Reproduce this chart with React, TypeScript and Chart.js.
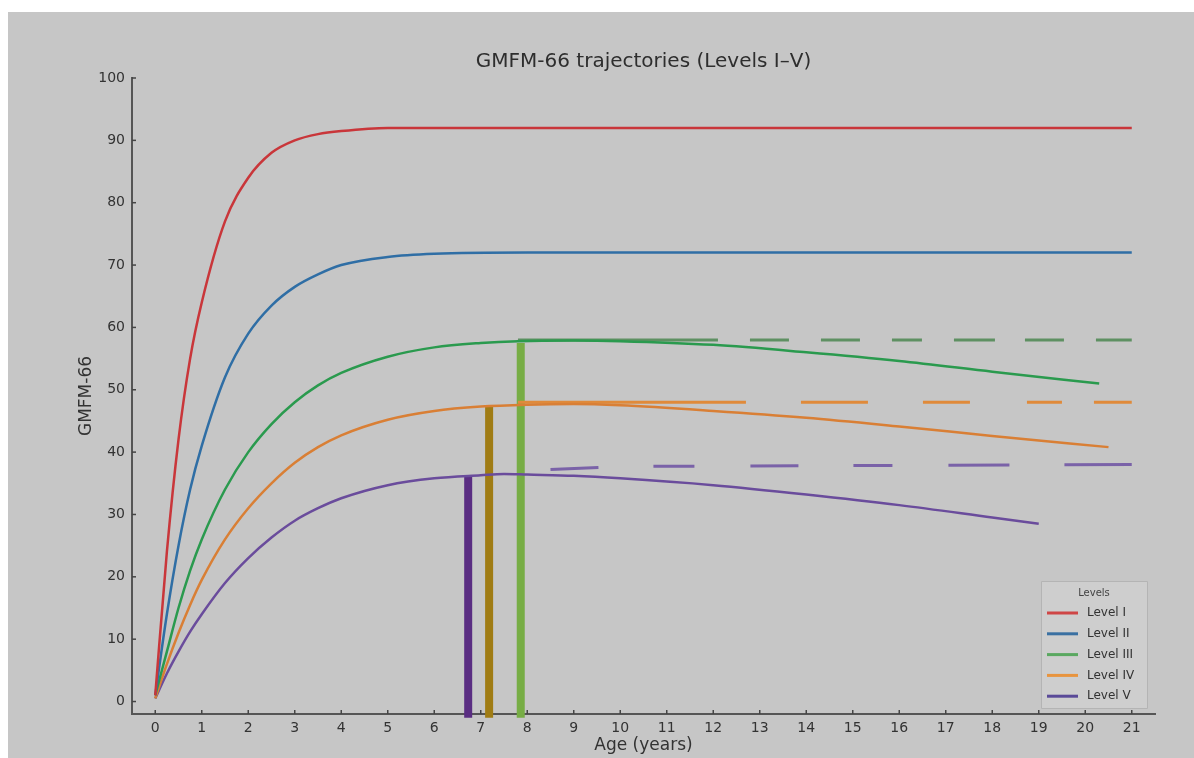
import React, { useEffect, useRef } from "react";
import { Chart, registerables } from "chart.js";

Chart.register(...registerables);

// ---- data ----
const levelIAges = [0, 0.25, 0.5, 0.75, 1, 1.5, 2, 2.5, 3, 3.5, 4, 5, 6, 8, 12, 16, 21];
const levelIValues = [1, 24, 42, 55, 64, 77, 84, 88, 90, 91, 91.5, 92, 92, 92, 92, 92, 92];

const levelIIAges = [0, 0.25, 0.5, 0.75, 1, 1.5, 2, 2.5, 3, 3.5, 4, 5, 6, 8, 12, 16, 21];
const levelIIValues = [1, 14, 25, 34, 41, 52, 59, 63.5, 66.5, 68.5, 70, 71.3, 71.8, 72, 72, 72, 72];

const levelIIIAges = [0, 0.25, 0.5, 0.75, 1, 1.5, 2, 2.5, 3, 3.5, 4, 5, 6, 7, 7.8, 9, 10, 12, 14, 16, 18, 20.3];
const levelIIIValues = [1, 8, 15, 21, 26, 34, 40, 44.5, 48, 50.7, 52.7, 55.3, 56.8, 57.5, 57.8, 57.9, 57.8, 57.2, 56, 54.6, 52.9, 51];

const levelIVAges = [0, 0.25, 0.5, 0.75, 1, 1.5, 2, 2.5, 3, 3.5, 4, 5, 6, 7, 8, 9, 10, 12, 14, 16, 18, 20.5];
const levelIVValues = [0.5, 6, 11, 15.5, 19.5, 26, 31, 35, 38.3, 40.8, 42.7, 45.2, 46.6, 47.3, 47.6, 47.7, 47.5, 46.6, 45.5, 44.1, 42.6, 40.8];

const levelVAges = [0, 0.25, 0.5, 0.75, 1, 1.5, 2, 2.5, 3, 3.5, 4, 5, 6, 7, 7.5, 8, 9, 10, 12, 14, 16, 18, 19];
const levelVValues = [0.5, 4.5, 8, 11.2, 14, 19, 23, 26.3, 29, 31, 32.6, 34.7, 35.8, 36.3, 36.5, 36.4, 36.2, 35.8, 34.7, 33.2, 31.5, 29.5, 28.5];

const plateauIIIAges = [7.8, 21];
const plateauIIIValues = [58, 58];
const plateauIVAges = [7.8, 21];
const plateauIVValues = [48, 48];
const plateauVAges = [8.5, 10, 21];
const plateauVValues = [37.2, 37.7, 38];

const peakLabels = ["Level V", "Level IV", "Level III"];
const peakAges = [6.73, 7.18, 7.86];
const peakValues = [36.1, 47.4, 57.5];
const peakBase = -2.6;

const xTickValues = Array.from({ length: 22 }, (_, i) => i);
const yTickValues = [0, 10, 20, 30, 40, 50, 60, 70, 80, 90, 100];

const legendLabels = ["Level I", "Level II", "Level III", "Level IV", "Level V"];
const legendColors = ["#cf4646", "#3a70a2", "#5aa860", "#e8943e", "#5a4a98"];

const FONT = "'DejaVu Sans', sans-serif";

const pts = (xs: number[], ys: number[]) => xs.map((x, i) => ({ x, y: ys[i] }));

const curve = (label: string, xs: number[], ys: number[], color: string) => ({
  label,
  data: pts(xs, ys),
  borderColor: color,
  backgroundColor: color,
  borderWidth: 2.5,
  pointRadius: 0,
  cubicInterpolationMode: "monotone" as const,
  fill: false,
});

const dashed = (label: string, xs: number[], ys: number[], color: string, dash: number[]) => ({
  label,
  data: pts(xs, ys),
  borderColor: color,
  backgroundColor: color,
  borderWidth: 3,
  borderDash: dash,
  pointRadius: 0,
  tension: 0,
  fill: false,
});

const peakColors = ["#5a2d82", "#a07c14", "#77ad45"];

const tickPlugin = {
  id: "inwardTicks",
  afterDraw(chart: any) {
    const { ctx, chartArea, scales } = chart;
    const xs = scales.x;
    const ys = scales.y;
    ctx.save();
    ctx.strokeStyle = "#444";
    ctx.lineWidth = 1.5;
    xTickValues.forEach((v) => {
      const px = xs.getPixelForValue(v);
      ctx.beginPath();
      ctx.moveTo(px, chartArea.bottom);
      ctx.lineTo(px, chartArea.bottom - 4);
      ctx.stroke();
    });
    yTickValues.forEach((v) => {
      const py = ys.getPixelForValue(v);
      ctx.beginPath();
      ctx.moveTo(chartArea.left, py);
      ctx.lineTo(chartArea.left + 4, py);
      ctx.stroke();
    });
    ctx.restore();
  },
};

const legendPlugin = {
  id: "boxLegend",
  afterDraw(chart: any) {
    const { ctx, chartArea } = chart;
    const w = 106;
    const h = 127;
    const right = chartArea.right - 8;
    const bottom = chartArea.bottom - 6;
    const left = right - w;
    const top = bottom - h;
    ctx.save();
    ctx.fillStyle = "rgba(206,206,206,0.9)";
    ctx.strokeStyle = "#b4b4b4";
    ctx.lineWidth = 1;
    ctx.beginPath();
    ctx.rect(left + 0.5, top + 0.5, w, h);
    ctx.fill();
    ctx.stroke();
    ctx.fillStyle = "#444";
    ctx.font = `10px ${FONT}`;
    ctx.textAlign = "center";
    ctx.textBaseline = "middle";
    ctx.fillText("Levels", left + w / 2, top + 12);
    ctx.font = `12px ${FONT}`;
    ctx.textAlign = "left";
    legendLabels.forEach((lab, i) => {
      const y = top + 32 + i * 20.8;
      ctx.strokeStyle = legendColors[i];
      ctx.lineWidth = 3;
      ctx.beginPath();
      ctx.moveTo(left + 6, y);
      ctx.lineTo(left + 37, y);
      ctx.stroke();
      ctx.fillStyle = "#333";
      ctx.fillText(lab, left + 46, y);
    });
    ctx.restore();
  },
};

export default function App() {
  const ref = useRef<HTMLCanvasElement | null>(null);

  useEffect(() => {
    if (!ref.current) return;
    const datasets: any[] = [
      curve("Level I", levelIAges, levelIValues, "#c9363a"),
      curve("Level II", levelIIAges, levelIIValues, "#2f6ea5"),
      curve("Level III", levelIIIAges, levelIIIValues, "#2a9a4e"),
      curve("Level IV", levelIVAges, levelIVValues, "#d97f35"),
      curve("Level V", levelVAges, levelVValues, "#6a4c9c"),
      dashed("Level III plateau", plateauIIIAges, plateauIIIValues, "#5e9062",
        [200, 32, 39, 32, 39, 32, 30, 32, 41, 30, 39, 32, 40]),
      dashed("Level IV plateau", plateauIVAges, plateauIVValues, "#e08a3a",
        [228, 55, 67, 55, 47, 57, 35, 32, 45]),
      dashed("Level V plateau", plateauVAges, plateauVValues, "#7a62a8",
        [48, 55, 41, 56, 48, 55, 39, 56, 61, 55, 75]),
    ];
    peakAges.forEach((a, i) => {
      datasets.push({
        label: peakLabels[i] + " peak",
        data: [
          { x: a, y: peakBase },
          { x: a, y: peakValues[i] },
        ],
        borderColor: peakColors[i],
        backgroundColor: peakColors[i],
        borderWidth: 8,
        borderCapStyle: "butt",
        pointRadius: 0,
        clip: false,
        fill: false,
      });
    });

    const chart = new Chart(ref.current, {
      type: "line",
      data: { datasets },
      plugins: [tickPlugin, legendPlugin],
      options: {
        responsive: false,
        animation: false,
        layout: { padding: { left: 60, right: 39, top: 0, bottom: 0 } },
        plugins: {
          legend: { display: false },
          tooltip: { enabled: false },
          title: {
            display: true,
            text: "GMFM-66 trajectories (Levels I–V)",
            color: "#2e2e2e",
            fullSize: false,
            font: { family: FONT, size: 20, weight: "normal" },
            padding: { top: 38, bottom: 4 },
          },
        },
        scales: {
          x: {
            type: "linear",
            min: -0.5,
            max: 21.5,
            afterBuildTicks: (s: any) => {
              s.ticks = xTickValues.map((v) => ({ value: v }));
            },
            afterFit: (s: any) => {
              s.height = 44;
            },
            grid: { display: false, drawTicks: false },
            border: { display: true, color: "#555", width: 2 },
            ticks: {
              color: "#333",
              font: { family: FONT, size: 14 },
              padding: 6,
              autoSkip: false,
              maxRotation: 0,
            },
            title: {
              display: true,
              text: "Age (years)",
              color: "#333",
              font: { family: FONT, size: 17 },
              padding: { top: 0, bottom: 2 },
            },
          },
          y: {
            type: "linear",
            min: -2,
            max: 100,
            afterBuildTicks: (s: any) => {
              s.ticks = yTickValues.map((v) => ({ value: v }));
            },
            afterFit: (s: any) => {
              s.width = 64;
            },
            grid: { display: false, drawTicks: false },
            border: { display: true, color: "#555", width: 2 },
            ticks: {
              color: "#333",
              font: { family: FONT, size: 14 },
              padding: 7,
            },
            title: {
              display: true,
              text: "GMFM-66",
              color: "#333",
              font: { family: FONT, size: 17 },
              padding: { top: 8, bottom: 0 },
            },
          },
        },
      } as any,
    });
    return () => chart.destroy();
  }, []);

  return (
    <div
      style={{
        position: "fixed",
        left: 8,
        top: 12,
        right: 0,
        bottom: 0,
        background: "#c6c6c6",
        overflow: "hidden",
      }}
    >
      <canvas ref={ref} width={1186} height={746} style={{ display: "block" }} />
    </div>
  );
}
